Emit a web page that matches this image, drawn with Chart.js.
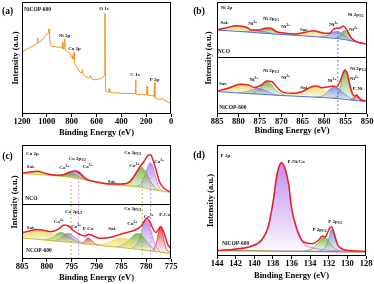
<!DOCTYPE html>
<html>
<head>
<meta charset="utf-8">
<script src="https://cdn.jsdelivr.net/npm/chart.js@4.4.0/dist/chart.umd.min.js"></script>
<style>
  html, body { margin: 0; padding: 0; background: #fff; }
  #wrap { position: relative; width: 374px; height: 284px; overflow: hidden; }
  canvas { position: absolute; }
</style>
</head>
<body>
<div id="wrap">
  <canvas id="chartA" width="187" height="142" style="left:0;top:0"></canvas>
  <canvas id="chartB" width="187" height="142" style="left:187px;top:0"></canvas>
  <canvas id="chartC" width="187" height="142" style="left:0;top:142px"></canvas>
  <canvas id="chartD" width="187" height="142" style="left:187px;top:142px"></canvas>
</div>
<script>
// (a) survey spectrum
var surveyE = [1200, 1150, 1100, 1078, 1074, 1070, 1040, 1010, 990, 982, 978, 972, 962, 930, 890, 878, 874, 870, 862, 858,
  855, 852, 845, 830, 810, 800, 796, 790, 784, 781, 777, 770, 750, 730, 718, 714, 708, 690, 660, 648,
  640, 620, 590, 560, 545, 536, 532, 528, 522, 505, 498, 493, 470, 400, 300, 288, 285, 282, 270, 230,
  198, 192, 188, 160, 137, 133, 130, 110, 90, 75, 68, 60, 40, 20, 0];
var surveyI = [55.5, 58.5, 61.5, 63, 68, 63.5, 66, 70, 72, 76, 70, 62, 60.5, 60, 59.5, 59, 64, 58, 58.5, 61,
  67, 57, 56.5, 55.5, 53.5, 51, 52, 49, 50, 55, 46, 44, 40, 37, 36.5, 40, 36, 33.5, 32, 34.5,
  31.5, 30.5, 31, 32, 33, 35, 90, 23, 20, 19.5, 22.5, 19.5, 19, 18.5, 18.3, 18, 30.5, 18, 17.6, 17.3,
  17, 25, 16.8, 16.5, 16, 28, 14.5, 13.5, 13, 13.5, 14.5, 12.5, 11.5, 10.5, 9.5];
var notesA = [['NiCOP-600', 1075, 93.5, 5.5], ['O 1s', 540, 94.4], ['Ni 2p', 858, 69.6], ['Co 2p', 777, 58], ['C 1s', 290, 34.8], ['P 2p', 133, 30.4]];

// (b) Ni 2p, NCO (upper) and NiCOP-600 (lower)
var bStack = 57;
var ncoNiEnv = [[885, 27], [883, 29], [880.4, 31.3], [878.1, 29.7], [876.9, 27], [875.4, 27], [873.8, 28.7], [872.6, 29], [871.1, 25.3], [869.1, 23.7], [866.8, 23], [864.5, 24.7], [862.5, 26.3], [860.6, 24.3], [859.4, 23.7], [858.6, 23.9], [857.9, 27.5], [857.1, 28.7], [856.3, 29], [855.5, 31], [854.7, 27], [853.6, 18.7], [852.4, 15.3], [850, 13]];
var ncoNiBase = [[885, 27], [880, 25.6], [875, 24], [870, 22.6], [865, 21.2], [860, 19.6], [857, 18.5], [855, 17.3], [853, 15.5], [851, 13.8], [850, 13]];
var ncoSat1 = [[885, 27.1], [883, 28.5], [880.5, 30.6], [878.5, 29], [876.5, 26], [874.5, 24.2], [873, 23.4]];
var ncoNi3a = [[879.5, 25.6], [877.5, 26], [876, 27], [874.8, 26.3], [873.2, 24.5], [871.5, 23]];
var ncoNi2a = [[876.5, 24.5], [875, 25.5], [873.7, 28.2], [872.6, 28], [871.3, 24.8], [870, 23]];
var ncoSat2 = [[868.5, 22.2], [866.5, 22.8], [864.5, 24.3], [862.5, 25.9], [860.8, 24], [859.3, 20.5], [858, 19]];
var ncoNi3b = [[861, 20], [859.3, 21.8], [857.8, 25], [857, 25.6], [856, 24], [854.8, 20], [853.5, 16]];
var ncoNi2b = [[857.5, 18.7], [856.4, 20.5], [855.6, 25.8], [855.1, 26.3], [854.5, 24], [853.8, 19], [853, 15.6]];
var npNiEnv = [[885, 23], [882.4, 25.7], [879.6, 29.7], [877.7, 29], [876.3, 26.5], [874.6, 29], [873.4, 33], [872.2, 32.3], [871.1, 27.3], [869.9, 22.3], [867.6, 20.7], [865.2, 22.3], [862.9, 27.3], [861.7, 28], [860.6, 26.3], [859, 27.3], [857.9, 28], [857.1, 27.3], [856.3, 32.3], [855.6, 41], [855.1, 44], [854.5, 39], [854, 29], [853.4, 20.7], [852.8, 17.8], [852.4, 19], [851.9, 16.3], [851.2, 14], [850, 13]];
var npNiBase = [[885, 22.5], [880, 21], [875, 19.8], [870, 18.5], [865, 17.5], [860, 16.4], [857, 15.5], [855, 14.6], [853, 13.6], [850, 12.5]];
var npSat1 = [[885, 22.7], [883, 24.2], [881, 27.5], [879.5, 29], [878, 27.6], [876.3, 23.8], [874.5, 20.8], [872.5, 19.5]];
var npNi3a = [[880, 21.2], [878, 22.6], [876.3, 25], [875.2, 25.5], [873.8, 23.6], [872, 20], [870.5, 18.7]];
var npNi2a = [[877, 20.2], [875.6, 22.8], [874.3, 28.8], [873.4, 32], [872.5, 30.2], [871.5, 25], [870.4, 20.8], [869.3, 18.7]];
var npSat2 = [[869, 18.4], [867, 19.6], [865, 22.5], [863, 26.4], [862, 27.4], [860.6, 25.3], [859.2, 21], [857.8, 17], [856.8, 15.5]];
var npNi3b = [[862, 16.9], [860.2, 18.5], [858.7, 24.5], [857.8, 26.8], [856.6, 25.2], [855.2, 20], [853.8, 15.6], [852.6, 13.8]];
var npNi2b = [[858, 15.8], [857, 17.8], [856.3, 25.5], [855.7, 37.5], [855.2, 43.4], [854.6, 38], [854, 27], [853.4, 18.5], [852.8, 14.5]];
var npPNi = [[853.8, 14.2], [853.2, 15.8], [852.7, 18.2], [852.2, 17], [851.6, 13.8], [851, 13]];
var niDashE = [856.8];
var niDashTop = [82];
var notesB = [['Ni 2p', 882.8, 106.7], ['Sat.', 883.25, 91], ['Ni^3+', 876.7, 90], ['Ni 2p_1/2', 872.4, 95], ['Ni^2+', 869, 87],
  ['Sat.', 864.7, 84], ['Ni^3+', 857.8, 89], ['Ni 2p_3/2', 852.7, 99], ['Ni^2+', 853.2, 84], ['NCO', 883.4, 62.3, 5.5],
  ['Sat.', 883.6, 30.7], ['Ni^3+', 876.4, 34], ['Ni 2p_1/2', 872.4, 43.3], ['Ni^2+', 869, 36.3], ['Sat.', 864.6, 26.3],
  ['Ni^3+', 858.2, 33], ['Ni 2p_3/2', 852.1, 45], ['Ni^2+', 853, 35], ['P-Ni', 852.2, 25], ['NiCOP-600', 881.3, 6.3, 5.5]];

// (c) Co 2p, NCO (upper) and NCOP-600 (lower)
var cStack = 55;
var ncoCoEnv = [[805, 31], [803.4, 32], [802, 32.7], [800, 30.3], [798, 28.7], [796.7, 29.3], [795.3, 32], [794.3, 33], [793.7, 32], [793, 28.7], [792, 24.7], [790, 22], [788, 20.3], [786, 19.9], [784.3, 20.3], [783.3, 22], [782.3, 28.7], [781.3, 37], [780.5, 42], [779.6, 48.7], [779.1, 49.3], [778.6, 43.7], [777.9, 32], [777.3, 22], [776.3, 15.3], [775, 12]];
var ncoCoBase = [[805, 30.5], [800, 29], [796, 27.3], [792, 23.8], [788, 20], [785, 18.8], [782, 17.4], [779.5, 15.2], [777, 13], [775, 11.7]];
var ncoCoSat1 = [[805, 30.6], [803.5, 31.6], [802, 32.2], [800.5, 30.6], [799, 29.2], [797.5, 28]];
var ncoCo2a = [[799, 28.7], [797.3, 28.8], [795.6, 30.8], [794.8, 30.6], [793.5, 27.5], [792, 24.5]];
var ncoCo3a = [[797, 28], [795.6, 29.6], [794.4, 32.4], [793.7, 32.8], [792.9, 30], [791.8, 25.3], [790.6, 22.8]];
var ncoCoSat2 = [[790.5, 22.3], [788.5, 20.8], [786.5, 20.4], [785, 20.5], [783.5, 19.2], [782.5, 17.8]];
var ncoCo2b = [[786, 19.4], [784.2, 20.5], [782.8, 26], [781.7, 34], [781, 36.5], [780.2, 33], [779.3, 24], [778.2, 16.5], [777.2, 13.2]];
var ncoCo3b = [[782.5, 17.4], [781.2, 19.5], [780.3, 28], [779.6, 38.5], [779.2, 41.5], [778.7, 38], [778.1, 27], [777.5, 17.5], [776.8, 13]];
var npCoEnv = [[805, 26], [803.5, 28], [802, 29.5], [800.5, 28.5], [799, 27.5], [797.5, 30.5], [796.5, 34], [795.5, 32.5], [794.5, 28], [793.3, 24.5], [792.3, 23], [791.6, 24.8], [790.8, 23.5], [789.5, 20.8], [788, 21], [786.5, 22.5], [785, 25], [783.5, 27], [782, 29.5], [781, 33], [780.3, 38.5], [779.9, 40.5], [779.3, 37.5], [778.6, 30], [778.1, 26.5], [777.5, 29.5], [777.1, 32.5], [776.7, 30], [776.2, 23], [775.7, 15], [775, 10]];
var npCoBase = [[805, 21], [800, 18.8], [795, 16.5], [790, 14], [785, 11.5], [780, 8.6], [777, 6.8], [775, 5.5]];
var npCoSat1 = [[805, 23.5], [803.5, 26.3], [801.8, 28.3], [800.2, 27.4], [798.6, 24], [797, 19.8], [795.5, 17]];
var npCo2a = [[800.5, 19.2], [799, 21], [797.8, 25.4], [797.2, 26.6], [796.2, 24.6], [794.8, 19.5], [793.3, 16]];
var npCo3a = [[798.5, 18.2], [797.2, 20.8], [796.2, 25], [795.5, 25.6], [794.5, 22.3], [793.3, 17.3], [792.2, 15]];
var npPCoA = [[793, 15.3], [792.3, 18.2], [791.7, 21], [791.1, 19.2], [790.3, 15.2], [789.5, 13.8]];
var npCoSat2 = [[791, 14.6], [789, 14.6], [787.2, 17.5], [785.6, 20.5], [784.6, 21], [783.2, 18.6], [781.6, 13.2], [780.2, 9.2]];
var npCo2b = [[786, 12.1], [784.6, 14.5], [783.2, 20], [782.2, 25], [781.4, 25.3], [780.4, 20.5], [779.2, 13.2], [778.2, 8.8]];
var npCo3b = [[783, 10.5], [781.8, 15], [780.9, 28], [780.3, 37], [779.9, 38.6], [779.3, 33], [778.6, 20.5], [777.9, 11.5], [777.2, 8]];
var npPCoB = [[778.6, 8.5], [777.9, 17], [777.4, 29], [777.1, 31.5], [776.8, 29], [776.4, 18.5], [775.9, 10], [775, 6.8]];
var coDashE = [795.1, 793.6, 780.8, 779.1];
var coDashTop = [77, 80.5, 82.5, 87];
var coDashKind = ['Co2+', 'Co3+', 'Co2+', 'Co3+'];
var notesC = [['Co 2p', 802.9, 105.3], ['Sat.', 803.2, 92], ['Co^2+', 796.5, 91.3], ['Co 2p_1/2', 793.9, 100.3], ['Co^3+', 791.8, 92],
  ['Sat.', 786.9, 77.7], ['Co 2p_3/2', 782.7, 106.3], ['Co^2+', 782.4, 93], ['Co^3+', 777.4, 97], ['NCO', 803.1, 60.3, 5.5],
  ['Co 2p_1/2', 794.6, 47.7], ['Co 2p_3/2', 782.7, 50.3], ['Co^2+', 797.6, 37], ['Co^3+', 794.1, 32], ['P-Co', 791.7, 30.3],
  ['Sat.', 803.2, 31], ['Sat.', 786.8, 30.3], ['Co^2+', 782.8, 35.3], ['Co^3+', 779.5, 42], ['P-Co', 776.3, 44.7], ['NCOP-600', 801.6, 8.7, 5.5]];

// (d) P 2p, NiCOP-600
var pEnv = [[144, 5.5], [142.1, 6.8], [140.3, 9.8], [139.2, 16], [138.5, 29], [137.95, 55.5], [137.6, 79.5], [137.2, 92.3], [137.05, 93.3], [136.7, 87.5], [136.3, 71.5], [136, 48.5], [135.4, 26.5], [134.7, 14], [133.8, 12.3], [133.1, 15.7], [132.7, 20], [132.4, 19], [131.9, 28], [131.7, 29], [131.4, 22.3], [131.1, 12.3], [130.6, 7.3], [130.1, 5.7], [128, 4.7]];
var pBase = [[144, 5.5], [140, 5.2], [136, 4.8], [132, 4.4], [128, 4]];
var pNiCo = [[144, 5.6], [142, 7], [140.3, 10.4], [139.2, 17], [138.5, 30], [137.95, 56.5], [137.6, 80], [137.2, 91.5], [137.05, 92.5], [136.7, 86.5], [136.3, 70], [136, 46.5], [135.4, 24.5], [134.7, 12.3], [133.8, 8.5], [133, 6.8], [132, 5.8], [130, 5]];
var p2p12 = [[134.6, 5.3], [133.7, 7.8], [133.1, 13.5], [132.6, 18.5], [132.3, 18], [131.9, 13.5], [131.4, 8], [130.8, 5.2]];
var p2p32 = [[133, 5], [132.4, 8.5], [132, 17.5], [131.7, 26.5], [131.45, 22.5], [131.1, 12], [130.6, 6.5], [130, 4.6]];
var notesD = [['P 2p', 143.1, 100.7], ['P-Ni/Co', 135.5, 94], ['P 2p_1/2', 133, 26.7], ['P 2p_3/2', 131.3, 34], ['NiCOP-600', 142, 12.3, 5.5]];

var serif = '"Liberation Serif", "Times New Roman", serif';
var YELLOW = '232,212,70', BLUE = '95,120,225', GREEN = '100,165,45', PURPLE = '175,110,235', RED = '225,40,50';
var ENV = 'rgb(236,28,36)';

function pts(list, shift) {
  return list.map(function (p) { return { x: p[0], y: p[1] + (shift || 0) }; });
}

function fade(rgb) {
  return function (ctx) {
    var chart = ctx.chart, area = chart.chartArea;
    if (!area || !ctx.dataset) return 'rgba(' + rgb + ',0.5)';
    var ys = ctx.dataset.data.map(function (p) { return p.y; });
    var sc = chart.scales.y;
    var top = sc.getPixelForValue(Math.max.apply(null, ys));
    var bot = sc.getPixelForValue(Math.min.apply(null, ys));
    if (bot - top < 1) bot = top + 1;
    var g = chart.ctx.createLinearGradient(0, top, 0, bot);
    g.addColorStop(0, 'rgba(' + rgb + ',0.78)');
    g.addColorStop(1, 'rgba(' + rgb + ',0.05)');
    return g;
  };
}

function curve(list, shift, color, width, order) {
  return { data: pts(list, shift), borderColor: color, borderWidth: width, fill: false,
    cubicInterpolationMode: 'monotone', pointRadius: 0, order: order };
}
function peak(list, shift, rgb, baseIndex) {
  return { data: pts(list, shift), borderColor: 'rgb(' + rgb + ')', borderWidth: 0.7, backgroundColor: fade(rgb),
    fill: { target: baseIndex }, cubicInterpolationMode: 'monotone', pointRadius: 0, order: 3 };
}
function dash(e, top, color) {
  return { data: [{ x: e, y: 0 }, { x: e, y: top }], borderColor: color, borderWidth: 0.8, borderDash: [2, 2],
    fill: false, pointRadius: 0, order: 1 };
}

function drawNote(ctx, text, x, y, size) {
  var base = text, script = '', up = false;
  var i = text.search(/[_^]/);
  if (i >= 0) { base = text.slice(0, i); script = text.slice(i + 1); up = text[i] === '^'; }
  var small = size * 0.7;
  ctx.font = 'bold ' + size + 'px ' + serif;
  var wb = ctx.measureText(base).width;
  ctx.font = 'bold ' + small + 'px ' + serif;
  var ws = script ? ctx.measureText(script).width : 0;
  var left = x - (wb + ws) / 2;
  ctx.textAlign = 'left';
  ctx.textBaseline = 'middle';
  ctx.fillStyle = '#111';
  ctx.font = 'bold ' + size + 'px ' + serif;
  ctx.fillText(base, left, y);
  if (script) {
    ctx.font = 'bold ' + small + 'px ' + serif;
    ctx.fillText(script, left + wb, y + (up ? -size * 0.35 : size * 0.3));
  }
}

function decor(notes, letter, lx, ly, sep) {
  return {
    id: 'decor',
    afterDatasetsDraw: function (chart) {
      var ctx = chart.ctx, a = chart.chartArea, xs = chart.scales.x, ys = chart.scales.y;
      ctx.save();
      ctx.strokeStyle = '#000';
      ctx.lineWidth = 1;
      ctx.strokeRect(a.left + 0.5, a.top + 0.5, a.right - a.left - 1, a.bottom - a.top - 1);
      if (sep != null) {
        var sy = Math.round(ys.getPixelForValue(sep)) + 0.5;
        ctx.beginPath();
        ctx.moveTo(a.left, sy);
        ctx.lineTo(a.right, sy);
        ctx.stroke();
      }
      notes.forEach(function (n) {
        drawNote(ctx, n[0], xs.getPixelForValue(n[1]), ys.getPixelForValue(n[2]), n[3] || 5);
      });
      ctx.font = 'bold 9.5px ' + serif;
      ctx.textAlign = 'center';
      ctx.textBaseline = 'middle';
      ctx.fillStyle = '#000';
      ctx.fillText(letter, lx, ly);
      ctx.restore();
    }
  };
}

function makeChart(id, cfg, datasets, plugin) {
  var axisFont = { family: serif, size: 8.5, weight: 'bold' };
  return new Chart(document.getElementById(id), {
    type: 'line',
    data: { datasets: datasets },
    options: {
      responsive: false,
      animation: false,
      events: [],
      layout: { padding: { top: cfg.top, right: cfg.right, left: 0, bottom: 0 } },
      plugins: { legend: { display: false }, tooltip: { enabled: false } },
      scales: {
        x: {
          type: 'linear', reverse: true, min: cfg.xMin, max: cfg.xMax,
          afterFit: function (s) { s.height = cfg.xHeight; s.paddingLeft = 0; s.paddingRight = 0; },
          ticks: { stepSize: cfg.step, color: '#000', font: axisFont, padding: 0, maxRotation: 0, autoSkip: false,
            callback: function (v) { return String(v); } },
          grid: { drawOnChartArea: false, drawTicks: true, tickLength: 3, color: '#000' },
          border: { display: false },
          title: { display: true, text: 'Binding Energy (eV)', color: '#000', font: axisFont,
            padding: { top: 0, bottom: cfg.xTitlePad } }
        },
        y: {
          type: 'linear', min: 0, max: cfg.yMax,
          afterFit: function (s) { s.width = cfg.left; },
          ticks: { display: false },
          grid: { display: false },
          border: { display: false },
          title: { display: true, text: 'Intensity (a.u.)', color: '#000', font: axisFont,
            padding: { top: cfg.yTitlePad, bottom: 0 } }
        }
      }
    },
    plugins: [plugin]
  });
}

// (a)
makeChart('chartA',
  { left: 22, top: 2, right: 16, xHeight: 28, xMin: 0, xMax: 1200, step: 200, yMax: 100, xTitlePad: 4.2, yTitlePad: 10.4 },
  [{ data: surveyE.map(function (e, i) { return { x: e, y: surveyI[i] }; }), borderColor: 'rgb(247,147,30)',
     borderWidth: 1, fill: false, pointRadius: 0, tension: 0 }],
  decor(notesA, '(a)', 7.5, 12, null));

// (b)
var blueLine = 'rgb(85,110,220)';
makeChart('chartB',
  { left: 30, top: 2, right: 7, xHeight: 28, xMin: 850, xMax: 885, step: 5, yMax: 112, xTitlePad: 5.9, yTitlePad: 16.9 },
  [
    curve(ncoNiBase, bStack, blueLine, 1, 2),
    curve(npNiBase, 0, blueLine, 1, 2),
    curve(ncoNiEnv, bStack, ENV, 1.5, 0),
    curve(npNiEnv, 0, ENV, 1.5, 0),
    dash(niDashE[0], niDashTop[0], 'rgb(70,100,220)'),
    peak(ncoSat1, bStack, YELLOW, 0), peak(ncoNi3a, bStack, BLUE, 0), peak(ncoNi2a, bStack, GREEN, 0),
    peak(ncoSat2, bStack, YELLOW, 0), peak(ncoNi3b, bStack, BLUE, 0), peak(ncoNi2b, bStack, GREEN, 0),
    peak(npSat1, 0, YELLOW, 1), peak(npNi3a, 0, BLUE, 1), peak(npNi2a, 0, GREEN, 1),
    peak(npSat2, 0, YELLOW, 1), peak(npNi3b, 0, BLUE, 1), peak(npNi2b, 0, GREEN, 1), peak(npPNi, 0, RED, 1)
  ],
  decor(notesB, '(b)', 12, 12, bStack));

// (c)
var oliveLine = 'rgb(200,196,60)';
var coDashes = coDashE.map(function (e, i) {
  return dash(e, coDashTop[i], coDashKind[i] === 'Co2+' ? 'rgb(120,190,60)' : 'rgb(190,130,240)');
});
makeChart('chartC',
  { left: 22, top: 3, right: 16, xHeight: 25, xMin: 775, xMax: 805, step: 5, yMax: 114, xTitlePad: 1.6, yTitlePad: 9.4 },
  [
    curve(ncoCoBase, cStack, oliveLine, 1.2, 2),
    curve(npCoBase, 0, oliveLine, 1.2, 2),
    curve(ncoCoEnv, cStack, ENV, 1.5, 0),
    curve(npCoEnv, 0, ENV, 1.5, 0),
    peak(ncoCoSat1, cStack, YELLOW, 0), peak(ncoCo2a, cStack, GREEN, 0), peak(ncoCo3a, cStack, PURPLE, 0),
    peak(ncoCoSat2, cStack, YELLOW, 0), peak(ncoCo2b, cStack, GREEN, 0), peak(ncoCo3b, cStack, PURPLE, 0),
    peak(npCoSat1, 0, YELLOW, 1), peak(npCo2a, 0, GREEN, 1), peak(npCo3a, 0, PURPLE, 1), peak(npPCoA, 0, RED, 1),
    peak(npCoSat2, 0, YELLOW, 1), peak(npCo2b, 0, GREEN, 1), peak(npCo3b, 0, PURPLE, 1), peak(npPCoB, 0, RED, 1)
  ].concat(coDashes),
  decor(notesC, '(c)', 7.5, 15, cStack));

// (d)
makeChart('chartD',
  { left: 30, top: 3, right: 8, xHeight: 28, xMin: 128, xMax: 144, step: 2, yMax: 111, xTitlePad: 3.6, yTitlePad: 18.4 },
  [
    curve(pBase, 0, 'rgb(150,125,60)', 1.2, 2),
    curve(pEnv, 0, ENV, 1.5, 0),
    Object.assign(peak(pNiCo, 0, PURPLE, 0), { order: 1, borderWidth: 1, borderColor: 'rgb(205,130,230)' }),
    peak(p2p12, 0, GREEN, 0),
    peak(p2p32, 0, BLUE, 0)
  ],
  decor(notesD, '(d)', 12, 14, null));
</script>
</body>
</html>
